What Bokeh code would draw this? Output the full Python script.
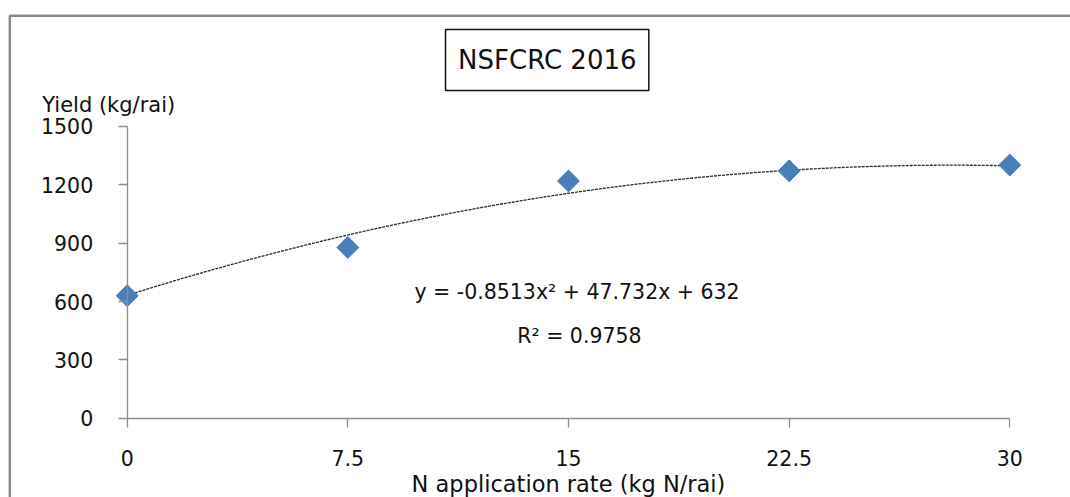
import numpy as np
from bokeh.plotting import figure
from bokeh.models import Range1d, FixedTicker, Label, BoxAnnotation, ColumnDataSource
from bokeh.embed import file_html
from bokeh.resources import INLINE

# ---- data ----
n_rate = [0, 7.5, 15, 22.5, 30]
yield_kg = [630, 878, 1220, 1272, 1302]
x_ticks = [0, 7.5, 15, 22.5, 30]
x_tick_labels = ["0", "7.5", "15", "22.5", "30"]
y_ticks = [0, 300, 600, 900, 1200, 1500]
trend_coef = [-0.8513, 47.732, 632]   # from the displayed equation
title_text = "NSFCRC 2016"
eq_text = "y = -0.8513x\u00b2 + 47.732x + 632"
r2_text = "R\u00b2 = 0.9758"
x_title = "N application rate (kg N/rai)"
y_title = "Yield (kg/rai)"

FONT = "DejaVu Sans"
TXT = "#111111"
GRAY = "#8e8e8e"

p = figure(width=1070, height=497, output_backend="svg", toolbar_location=None,
           x_range=Range1d(-4.307, 32.064), y_range=Range1d(-407.8, 2147.9),
           min_border=0)
p.background_fill_color = "white"
p.border_fill_color = "white"
p.outline_line_color = None
p.grid.visible = False

# axes
for ax in (p.xaxis, p.yaxis):
    ax.fixed_location = 0
    ax.axis_line_color = GRAY
    ax.axis_line_width = 1.3
    ax.major_tick_line_color = GRAY
    ax.major_tick_line_width = 1.3
    ax.major_tick_in = 0
    ax.major_tick_out = 9
    ax.minor_tick_line_color = None
    ax.major_label_text_font = FONT
    ax.major_label_text_font_size = "20.5px"
    ax.major_label_text_color = TXT

p.xaxis.ticker = FixedTicker(ticks=x_ticks)
p.xaxis.major_label_overrides = {t: l for t, l in zip(x_ticks, x_tick_labels)}
p.xaxis.bounds = (x_ticks[0], x_ticks[-1])
p.xaxis.major_label_standoff = 23
p.xaxis.axis_label = x_title
p.xaxis.axis_label_text_font = FONT
p.xaxis.axis_label_text_font_size = "22.5px"
p.xaxis.axis_label_text_font_style = "normal"
p.xaxis.axis_label_text_color = TXT
p.xaxis.axis_label_standoff = 1

p.yaxis.ticker = FixedTicker(ticks=y_ticks)
p.yaxis.bounds = (y_ticks[0], y_ticks[-1])
p.yaxis.major_label_standoff = 25

# outer chart-area border
p.add_layout(BoxAnnotation(left=-3.99, right=33.0, top=2069.7, bottom=-500,
                           fill_color=None, fill_alpha=0, line_color="#8a8a8a",
                           line_alpha=1, line_width=2.5))

# trend line
xs = np.linspace(n_rate[0], n_rate[-1], 200)
ys = np.polyval(trend_coef, xs)
p.line(xs, ys, line_color="#2a2a2a", line_width=1.3, line_dash="3 1")

# data points
src = ColumnDataSource(dict(x=n_rate, y=yield_kg))
p.scatter("x", "y", source=src, marker="square", size=15.5, angle=np.pi / 4,
          fill_color="#4a7ebb", line_color="#4a7ebb")

# title in box
p.add_layout(BoxAnnotation(left=10.82, right=17.73, top=1998.7, bottom=1685.1,
                           fill_color="white", fill_alpha=1, line_color="#111111",
                           line_alpha=1, line_width=1.5))
p.add_layout(Label(x=14.28, y=1841.9, text=title_text, text_font=FONT, text_font_size="26px",
                   text_align="center", text_baseline="middle", text_color=TXT))

# y title (horizontal, top-left)
p.add_layout(Label(x=-2.889, y=1611, text=y_title, text_font=FONT, text_font_size="21px",
                   text_align="left", text_baseline="alphabetic", text_color=TXT))

# equation and R2
p.add_layout(Label(x=15.29, y=651.5, text=eq_text, text_font=FONT, text_font_size="20.5px",
                   text_align="center", text_baseline="middle", text_color=TXT))
p.add_layout(Label(x=15.37, y=425, text=r2_text, text_font=FONT, text_font_size="20.5px",
                   text_align="center", text_baseline="middle", text_color=TXT))

open("out.html", "w").write(file_html(p, INLINE))
